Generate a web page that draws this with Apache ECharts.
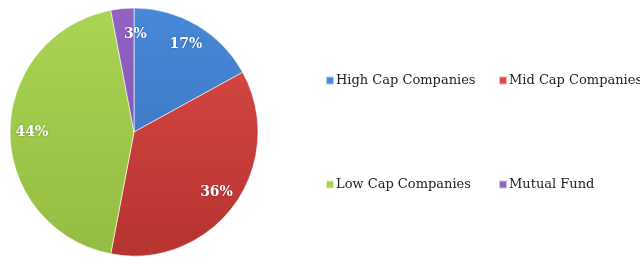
<!DOCTYPE html>
<html>
<head>
<meta charset="utf-8">
<script src="https://cdn.jsdelivr.net/npm/echarts@6/dist/echarts.min.js"></script>
<style>
  html, body { margin: 0; padding: 0; background: #fff; }
  #chart { width: 640px; height: 257px; }
</style>
</head>
<body>
<div id="chart"></div>
<script>
const categories = ["High Cap Companies", "Mid Cap Companies", "Low Cap Companies", "Mutual Fund"];
const values = [17, 36, 44, 3];
// top colour, bottom colour
const colors = [
  ["#4788d8", "#3670b8"],
  ["#dc4a46", "#b63330"],
  ["#aad452", "#94bc42"],
  ["#9164c4", "#7a4dab"]
];

let myChart = echarts.init(document.getElementById("chart"));

const center = [134, 132];
const fill = c => ({
  type: "linear", x: 0, y: 8, x2: 0, y2: 256, global: true,
  colorStops: [{ offset: 0, color: c[0] }, { offset: 1, color: c[1] }]
});

let data = categories.map((name, i) => ({
  name,
  value: values[i],
  itemStyle: { color: fill(colors[i]) }
}));

// transparent ring, only used to place the % labels further out
let labelData = categories.map((name, i) => ({
  name,
  value: values[i],
  itemStyle: { color: "rgba(0,0,0,0)" },
  label: i === 3 ? { offset: [11, 4] } : {}
}));

const legendText = {
  fontFamily: "DejaVu Serif",
  fontSize: 13,
  color: "#222",
  padding: [0, 0, 0, -3]
};

let option = {
  animation: false,
  color: colors.map(c => c[1]),
  legend: [
    {
      orient: "vertical",
      left: 320,
      top: 69,
      icon: "rect",
      itemWidth: 8,
      itemHeight: 8,
      itemGap: 91,
      textStyle: legendText,
      data: [categories[0], categories[2]]
    },
    {
      orient: "vertical",
      left: 493,
      top: 69,
      icon: "rect",
      itemWidth: 8,
      itemHeight: 8,
      itemGap: 91,
      textStyle: legendText,
      data: [categories[1], categories[3]]
    }
  ],
  series: [
    {
      name: "share",
      type: "pie",
      center,
      radius: 124,
      startAngle: 90,
      clockwise: true,
      label: { show: false },
      labelLine: { show: false },
      itemStyle: { borderColor: "rgba(255,255,255,0.6)", borderWidth: 1 },
      emphasis: { disabled: true },
      data
    },
    {
      name: "labels",
      type: "pie",
      center,
      radius: [74, 124],
      startAngle: 90,
      clockwise: true,
      silent: true,
      legendHoverLink: false,
      label: {
        show: true,
        position: "inside",
        formatter: "{c}%",
        color: "#fff",
        fontFamily: "DejaVu Serif",
        fontWeight: "bold",
        fontSize: 14,
        textShadowColor: "rgba(0,0,0,0.35)",
        textShadowBlur: 2
      },
      labelLine: { show: false },
      data: labelData
    }
  ]
};
myChart.setOption(option);
</script>
</body>
</html>
